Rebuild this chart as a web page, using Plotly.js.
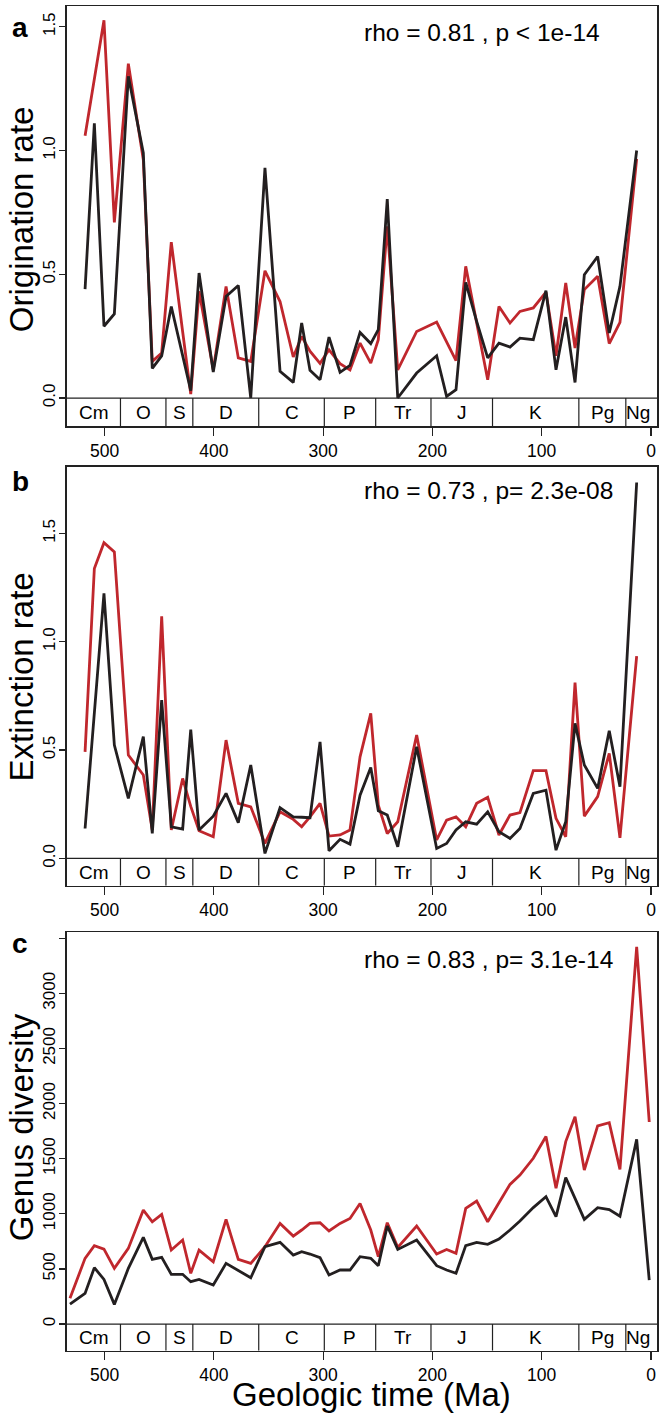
<!DOCTYPE html>
<html>
<head>
<meta charset="utf-8">
<script src="https://cdn.plot.ly/plotly-3.0.1.min.js"></script>
<style>html,body{margin:0;padding:0;background:#fff;}#chart{width:664px;height:1423px;}</style>
</head>
<body>
<div id="chart"></div>
<script>
// Ages (Ma) of the stage points for origination / extinction rate panels
const ageRates = [517.8, 509.3, 500.5, 491.0, 478.2, 464.5, 456.3, 447.7, 438.9, 428.5,
  421.1, 413.5, 400.5, 388.8, 377.6, 366.2, 353.2, 339.4, 327.3, 319.6,
  312.0, 302.8, 294.6, 284.5, 275.4, 266.2, 256.4, 249.5, 241.3, 231.7,
  214.4, 196.1, 187.0, 178.4, 169.5, 159.5, 149.4, 139.1, 129.0, 119.9,
  107.7, 96.1, 86.9, 78.0, 69.5, 61.0, 48.8, 38.2, 28.4, 13.1];
// Ages (Ma) for the diversity panel
const ageDiv = [531.6, 517.8, 509.3, 500.5, 491.0, 478.2, 464.5, 456.3, 447.7, 438.9, 428.5,
  421.1, 413.5, 400.5, 388.8, 377.6, 366.2, 353.2, 339.4, 327.3, 319.6,
  312.0, 302.8, 294.6, 284.5, 275.4, 266.2, 256.4, 249.5, 241.3, 231.7,
  214.4, 196.1, 187.0, 178.4, 169.5, 159.5, 149.4, 139.1, 129.0, 119.9,
  107.7, 96.1, 86.9, 78.0, 69.5, 61.0, 48.8, 38.2, 28.4, 13.1, 1.6];

// Panel a: origination rate
const origBlack = [0.44, 1.11, 0.29, 0.34, 1.30, 0.99, 0.12, 0.17, 0.37, 0.17,
  0.03, 0.505, 0.105, 0.41, 0.455, 0.0, 0.93, 0.108, 0.063, 0.303,
  0.112, 0.074, 0.246, 0.104, 0.132, 0.265, 0.22, 0.276, 0.804, 0.0,
  0.101, 0.171, 0.007, 0.034, 0.467, 0.31, 0.162, 0.222, 0.206, 0.242,
  0.236, 0.434, 0.114, 0.327, 0.063, 0.498, 0.572, 0.263, 0.451, 1.0];
const origRed = [1.06, 1.29, 1.526, 0.71, 1.351, 0.963, 0.148, 0.182, 0.63, 0.268,
  0.016, 0.431, 0.114, 0.451, 0.162, 0.148, 0.514, 0.39, 0.166, 0.249,
  0.189, 0.14, 0.195, 0.139, 0.114, 0.222, 0.141, 0.236, 0.694, 0.114,
  0.269, 0.307, 0.23, 0.151, 0.532, 0.303, 0.074, 0.37, 0.303, 0.35,
  0.364, 0.428, 0.171, 0.465, 0.202, 0.438, 0.492, 0.22, 0.306, 0.966];

// Panel b: extinction rate
const extBlack = [0.138, 0.69, 1.223, 0.523, 0.277, 0.562, 0.115, 0.731, 0.146, 0.135,
  0.595, 0.131, 0.195, 0.3, 0.165, 0.431, 0.023, 0.234, 0.192, 0.19,
  0.188, 0.538, 0.035, 0.088, 0.066, 0.292, 0.42, 0.22, 0.2, 0.054,
  0.515, 0.046, 0.069, 0.131, 0.169, 0.158, 0.215, 0.123, 0.092, 0.138,
  0.3, 0.315, 0.038, 0.169, 0.623, 0.431, 0.323, 0.589, 0.331, 1.735];
const extRed = [0.492, 1.338, 1.457, 1.415, 0.477, 0.385, 0.131, 1.118, 0.131, 0.369,
  0.24, 0.128, 0.1, 0.546, 0.254, 0.238, 0.069, 0.215, 0.18, 0.146,
  0.192, 0.254, 0.103, 0.108, 0.131, 0.469, 0.669, 0.246, 0.115, 0.169,
  0.569, 0.085, 0.177, 0.192, 0.146, 0.254, 0.282, 0.108, 0.2, 0.211,
  0.405, 0.405, 0.185, 0.1, 0.812, 0.195, 0.285, 0.485, 0.095, 0.934];

// Panel c: genus diversity
const divBlack = [181, 278, 511, 405, 178, 505, 786, 587, 605, 451, 451,
  384, 405, 354, 550, 484, 420, 702, 741, 626, 656,
  635, 602, 445, 490, 490, 611, 596, 529, 889, 677,
  762, 529, 490, 460, 711, 741, 723, 771, 853, 935,
  1056, 1155, 974, 1328, 1140, 950, 1056, 1038, 978, 1675, 399];
const divRed = [233, 596, 711, 680, 505, 686, 1034, 928, 995, 671, 762,
  460, 671, 565, 950, 587, 550, 702, 913, 798, 853,
  913, 919, 844, 913, 958, 1094, 853, 611, 919, 696,
  889, 635, 677, 641, 1049, 1115, 928, 1100, 1267, 1352,
  1504, 1701, 1232, 1655, 1881, 1397, 1797, 1827, 1403, 3423, 1833];

// Geologic periods (name, older bound, younger bound) in Ma
const periodNames = ["Cm", "O", "S", "D", "C", "P", "Tr", "J", "K", "Pg", "Ng"];
const periodStart = [541.0, 485.4, 443.8, 419.2, 358.9, 298.9, 251.9, 201.3, 145.0, 66.0, 23.03];
const periodEnd   = [485.4, 443.8, 419.2, 358.9, 298.9, 251.9, 201.3, 145.0, 66.0, 23.03, 0.0];

const xTicks = [500, 400, 300, 200, 100, 0];
const panelLetters = ["a", "b", "c"];
const yTitles = ["Origination rate", "Extinction rate", "Genus diversity"];
const statTexts = ["rho = 0.81 , p &lt; 1e-14", "rho = 0.73 , p= 2.3e-08", "rho = 0.83 , p= 3.1e-14"];
const xTitle = "Geologic time (Ma)";

const RED = "#c0272d", BLACK = "#231f20";
const FONT = "Liberation Sans, Arial, Helvetica, sans-serif";
const W = 664, H = 1423;
const XR = [534.6, -5.5];
const yRanges = [[-0.113, 1.584], [-0.126, 1.808], [-242, 3554]];
// pixel boxes (top, bottom)
const boxes = [[6, 426], [466.7, 885.7], [932.3, 1350.7]];
const xLeft = 66.7, xRight = 657;

const px = x => x / W;
const py = y => 1 - y / H;

function line(x, y, color, ax) {
  return {x: x, y: y, type: "scatter", mode: "lines", xaxis: "x" + ax, yaxis: "y" + ax,
    line: {color: color, width: 2.8}, hoverinfo: "skip", showlegend: false};
}
const data = [
  line(ageRates, origRed, RED, ""), line(ageRates, origBlack, BLACK, ""),
  line(ageRates, extRed, RED, "2"), line(ageRates, extBlack, BLACK, "2"),
  line(ageDiv, divRed, RED, "3"), line(ageDiv, divBlack, BLACK, "3")
];

const layout = {
  width: W, height: H, margin: {l: 0, r: 0, t: 0, b: 0},
  paper_bgcolor: "#fff", plot_bgcolor: "#fff", showlegend: false,
  font: {family: FONT, color: "#000"},
  shapes: [], annotations: []
};

const yTickSets = [
  {vals: [0, 0.5, 1.0, 1.5], text: ["0.0", "0.5", "1.0", "1.5"]},
  {vals: [0, 0.5, 1.0, 1.5], text: ["0.0", "0.5", "1.0", "1.5"]},
  {vals: [0, 500, 1000, 1500, 2000, 2500, 3000, 3500], text: ["0", "500", "1000", "1500", "2000", "2500", "3000", ""]}
];

for (let i = 0; i < 3; i++) {
  const sfx = i === 0 ? "" : String(i + 1);
  const [top, bot] = boxes[i];
  const yr = yRanges[i];
  layout["xaxis" + sfx] = {
    domain: [px(xLeft), px(xRight)], range: XR, anchor: "y" + sfx,
    showgrid: false, zeroline: false, showline: true, mirror: true,
    linecolor: "#222", linewidth: 1.5,
    ticks: "outside", ticklen: 8, tickwidth: 1.2, tickcolor: "#222",
    tickvals: xTicks, ticktext: xTicks.map(String),
    tickfont: {size: 17.5, family: FONT, color: "#000"}
  };
  layout["yaxis" + sfx] = {
    domain: [py(bot), py(top)], range: yr, anchor: "x" + sfx,
    showgrid: false, zeroline: false, showline: true, mirror: true,
    linecolor: "#222", linewidth: 1.5,
    ticks: "outside", ticklen: 6, tickwidth: 1.2, tickcolor: "#222",
    tickvals: yTickSets[i].vals, ticktext: yTickSets[i].text, tickangle: -90,
    ticklabelstandoff: -3,
    tickfont: {size: 17, family: FONT, color: "#000"}
  };
  const xref = "x" + sfx, yref = "y" + sfx;
  // period strip top line
  layout.shapes.push({type: "line", xref: xref + " domain", yref: yref, x0: 0, x1: 1, y0: 0, y1: 0,
    line: {color: "#222", width: 1.2}});
  for (let k = 1; k < periodStart.length; k++) {
    layout.shapes.push({type: "line", xref: xref, yref: yref, x0: periodStart[k], x1: periodStart[k],
      y0: yr[0], y1: 0, line: {color: "#222", width: 1.2}});
  }
  for (let k = 0; k < periodNames.length; k++) {
    const a = Math.min(periodStart[k], XR[0]);
    const b = Math.max(periodEnd[k], XR[1]);
    layout.annotations.push({xref: xref, yref: yref, x: (a + b) / 2, y: yr[0] / 2,
      text: periodNames[k], showarrow: false, xanchor: "center", yanchor: "middle",
      font: {size: 19, family: FONT, color: "#000"}});
  }
}

const letterY = [27, 481.7, 943];
const titleY = [219.5, 676.7, 1127.5];
const statY = [32, 490, 959];
for (let i = 0; i < 3; i++) {
  layout.annotations.push({xref: "paper", yref: "paper", x: px(20), y: py(letterY[i]),
    text: "<b>" + panelLetters[i] + "</b>", showarrow: false, xanchor: "center", yanchor: "middle",
    font: {size: 28, family: FONT, color: "#000"}});
  layout.annotations.push({xref: "paper", yref: "paper", x: px(21.7), y: py(titleY[i]),
    text: yTitles[i], textangle: -90, showarrow: false, xanchor: "center", yanchor: "middle",
    font: {size: 33, family: FONT, color: "#000"}});
  layout.annotations.push({xref: "paper", yref: "paper", x: px(361.7), y: py(statY[i]),
    text: statTexts[i], showarrow: false, xanchor: "left", yanchor: "middle",
    font: {size: 24.5, family: FONT, color: "#000"}});
}
layout.annotations.push({xref: "paper", yref: "paper", x: px(371.5), y: py(1394),
  text: xTitle, showarrow: false, xanchor: "center", yanchor: "middle",
  font: {size: 33, family: FONT, color: "#000"}});

Plotly.newPlot("chart", data, layout, {displayModeBar: false, staticPlot: true});
</script>
</body>
</html>
